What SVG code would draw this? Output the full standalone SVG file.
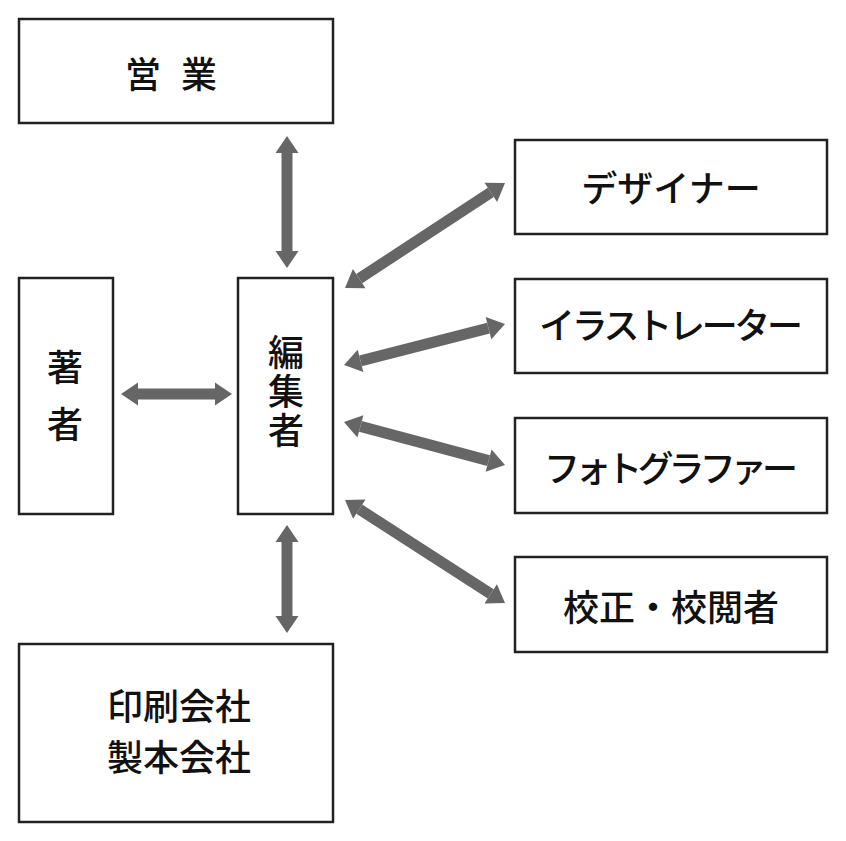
<svg xmlns="http://www.w3.org/2000/svg" width="846" height="841" viewBox="0 0 846 841">
<style>
.box{fill:#fff;stroke:#222;stroke-width:2.5}
.t{font-family:"Noto Sans CJK JP","Noto Sans CJK SC",sans-serif;font-size:36px;font-weight:500;fill:#111;text-anchor:middle;dominant-baseline:central}
.v{writing-mode:vertical-rl;letter-spacing:3px}
.c{stroke:#666;stroke-width:11;fill:none;marker-start:url(#ah);marker-end:url(#ah)}
</style>
<defs>
<marker id="ah" markerUnits="userSpaceOnUse" markerWidth="18" markerHeight="24" refX="0" refY="12" orient="auto-start-reverse" overflow="visible">
<path d="M0,0.5 L17,12 L0,23.5 z" fill="#666"/>
</marker>
</defs>
<rect width="846" height="841" fill="#fff"/>
<g id="eigyo"><rect class="box" x="19" y="19" width="314" height="104"/><text class="t" x="171" y="72" textLength="92">営 業</text></g>
<g id="designer"><rect class="box" x="515" y="140" width="312" height="94"/><text class="t" x="671" y="186">デザイナー</text></g>
<g id="illustrator"><rect class="box" x="515" y="279" width="312" height="94"/><text class="t" x="671" y="323" textLength="264">イラストレーター</text></g>
<g id="photographer"><rect class="box" x="515" y="418" width="312" height="95"/><text class="t" x="671" y="466" textLength="254">フォトグラファー</text></g>
<g id="kousei"><rect class="box" x="515" y="557" width="312" height="95"/><text class="t" x="671" y="605">校正・校閲者</text></g>
<g id="chosha"><rect class="box" x="19" y="278" width="94" height="236"/><text class="t" x="65" y="365">著</text><text class="t" x="65" y="422">者</text></g>
<g id="henshusha"><rect class="box" x="238" y="278" width="95" height="236"/><text class="t v" x="286" y="393">編集者</text></g>
<g id="insatsu"><rect class="box" x="19" y="644" width="314" height="178"/><text class="t" x="179" y="704">印刷会社</text><text class="t" x="179" y="755">製本会社</text></g>
<g id="connectors">
<line class="c" x1="287" y1="153" x2="287" y2="251"/>
<line class="c" x1="287" y1="542" x2="287" y2="616"/>
<line class="c" x1="138" y1="394" x2="215" y2="394"/>
<line class="c" x1="359.2" y1="278.7" x2="490.8" y2="192.3"/>
<line class="c" x1="360.5" y1="360.8" x2="488.5" y2="328.2"/>
<line class="c" x1="360.4" y1="426.4" x2="488.6" y2="460.6"/>
<line class="c" x1="359.3" y1="509.2" x2="490.7" y2="593.8"/>
</g>
</svg>
